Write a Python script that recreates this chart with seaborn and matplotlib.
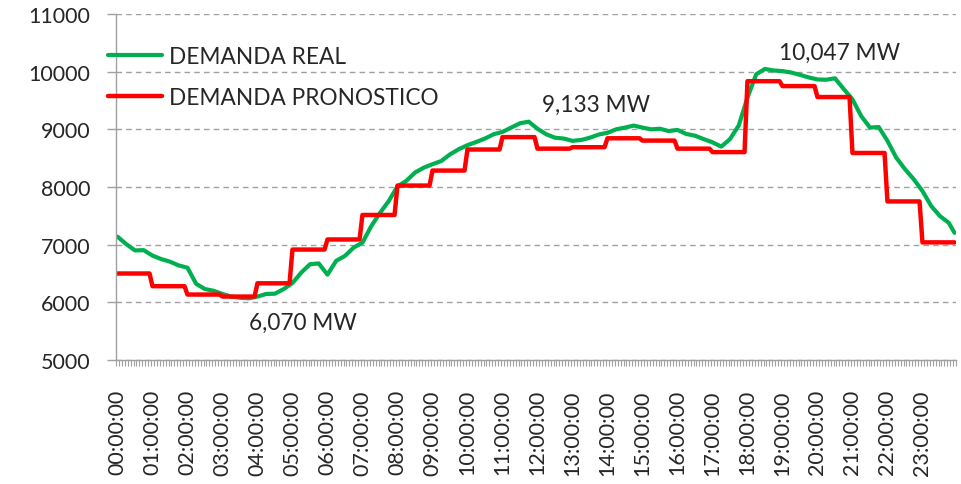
import numpy as np
import pandas as pd
import matplotlib.pyplot as plt
import seaborn as sns

# Demanda pronosticada (MW), un valor por hora 00h..23h
forecast_hourly = [6500, 6280, 6135, 6100, 6330, 6915, 7090, 7515,
                   8025, 8285, 8650, 8865, 8665, 8690, 8845, 8805,
                   8665, 8605, 9835, 9750, 9560, 8590, 7750, 7040]

# Demanda real (MW), leida cada 15 minutos desde 00:00 hasta 23:45, mas 23:55
real_values = [7139, 7010, 6900, 6905, 6810, 6750, 6705, 6640,
               6600, 6320, 6230, 6200, 6145, 6100, 6080, 6070,
               6100, 6145, 6150, 6230, 6335, 6515, 6660, 6675,
               6480, 6720, 6805, 6950, 7035, 7320, 7550, 7755,
               8010, 8105, 8250, 8335, 8395, 8450, 8565, 8655,
               8725, 8780, 8840, 8915, 8955, 9030, 9105, 9133,
               9010, 8915, 8855, 8840, 8800, 8815, 8855, 8910,
               8940, 9000, 9030, 9065, 9030, 9000, 9010, 8970,
               8990, 8920, 8890, 8830, 8775, 8700, 8830, 9065,
               9550, 9955, 10047, 10020, 10010, 9985, 9945, 9900,
               9865, 9860, 9885, 9700, 9520, 9230, 9030, 9040,
               8800, 8510, 8310, 8135, 7930, 7670, 7495, 7380,
               7205]
real_minutes = list(range(0, 1440, 15)) + [1435]

hour_labels = [f'{h:02d}:00:00' for h in range(24)]

# (texto, minuto, MW) de las etiquetas
annotations = [('6,070 MW', 318, 5660),
               ('9,133 MW', 820, 9435),
               ('10,047 MW', 1238, 10340)]

# 5-minute slots for the forecast series
slot_minutes = np.arange(0, 1440, 5)
forecast_5min = np.repeat(forecast_hourly, 12)

df_real = pd.DataFrame({'min': real_minutes, 'MW': real_values})
df_fc = pd.DataFrame({'min': slot_minutes, 'MW': forecast_5min})

sns.set_style('white')
plt.rcParams['font.family'] = ['Lato', 'DejaVu Sans']

fig = plt.figure(figsize=(9.61, 4.85), dpi=100)
ax = fig.add_axes([116 / 961, 1 - 361 / 485, 840 / 961, 346 / 485])

sns.lineplot(data=df_real, x='min', y='MW', ax=ax, color='#00B050',
             linewidth=3.0, label='DEMANDA REAL')
sns.lineplot(data=df_fc, x='min', y='MW', ax=ax, color='#FF0000',
             linewidth=3.2, label='DEMANDA PRONOSTICO')

ax.set_xlim(-2.5, 1437.5)
ax.set_ylim(5000, 11000)
ax.set_yticks(range(5000, 11001, 1000))
ax.set_xticks(np.arange(0, 1440, 60))
ax.set_xticklabels(hour_labels, rotation=90)
ax.set_xticks(np.arange(-2.5, 1440, 5), minor=True)
ax.set_xlabel('')
ax.set_ylabel('')

ax.grid(axis='y', color='#A0A0A0', linestyle=(0, (4, 3)), linewidth=1.0)
ax.set_axisbelow(True)
for s in ['top', 'right']:
    ax.spines[s].set_visible(False)
for s in ['left', 'bottom']:
    ax.spines[s].set_color('#A0A0A0')
    ax.spines[s].set_linewidth(1.0)

ax.tick_params(axis='y', length=6.5, width=1.0, color='#A0A0A0',
               labelsize=15.5, pad=12, left=True)
ax.tick_params(axis='x', which='major', length=0, labelsize=15.5, pad=21)
ax.tick_params(axis='x', which='minor', length=4, width=0.8,
               color='#A0A0A0', bottom=True)

for txt, xm, ym in annotations:
    ax.text(xm, ym, txt, ha='center', va='center', fontsize=16.3)

ax.legend(loc='upper left', bbox_to_anchor=(108 / 961, 1 - 47 / 485),
          bbox_transform=fig.transFigure, frameon=False, fontsize=16.3,
          handlelength=2.4, handletextpad=0.3, labelspacing=0.9,
          borderpad=0, borderaxespad=0)

fig.savefig('out.png', dpi=100)
